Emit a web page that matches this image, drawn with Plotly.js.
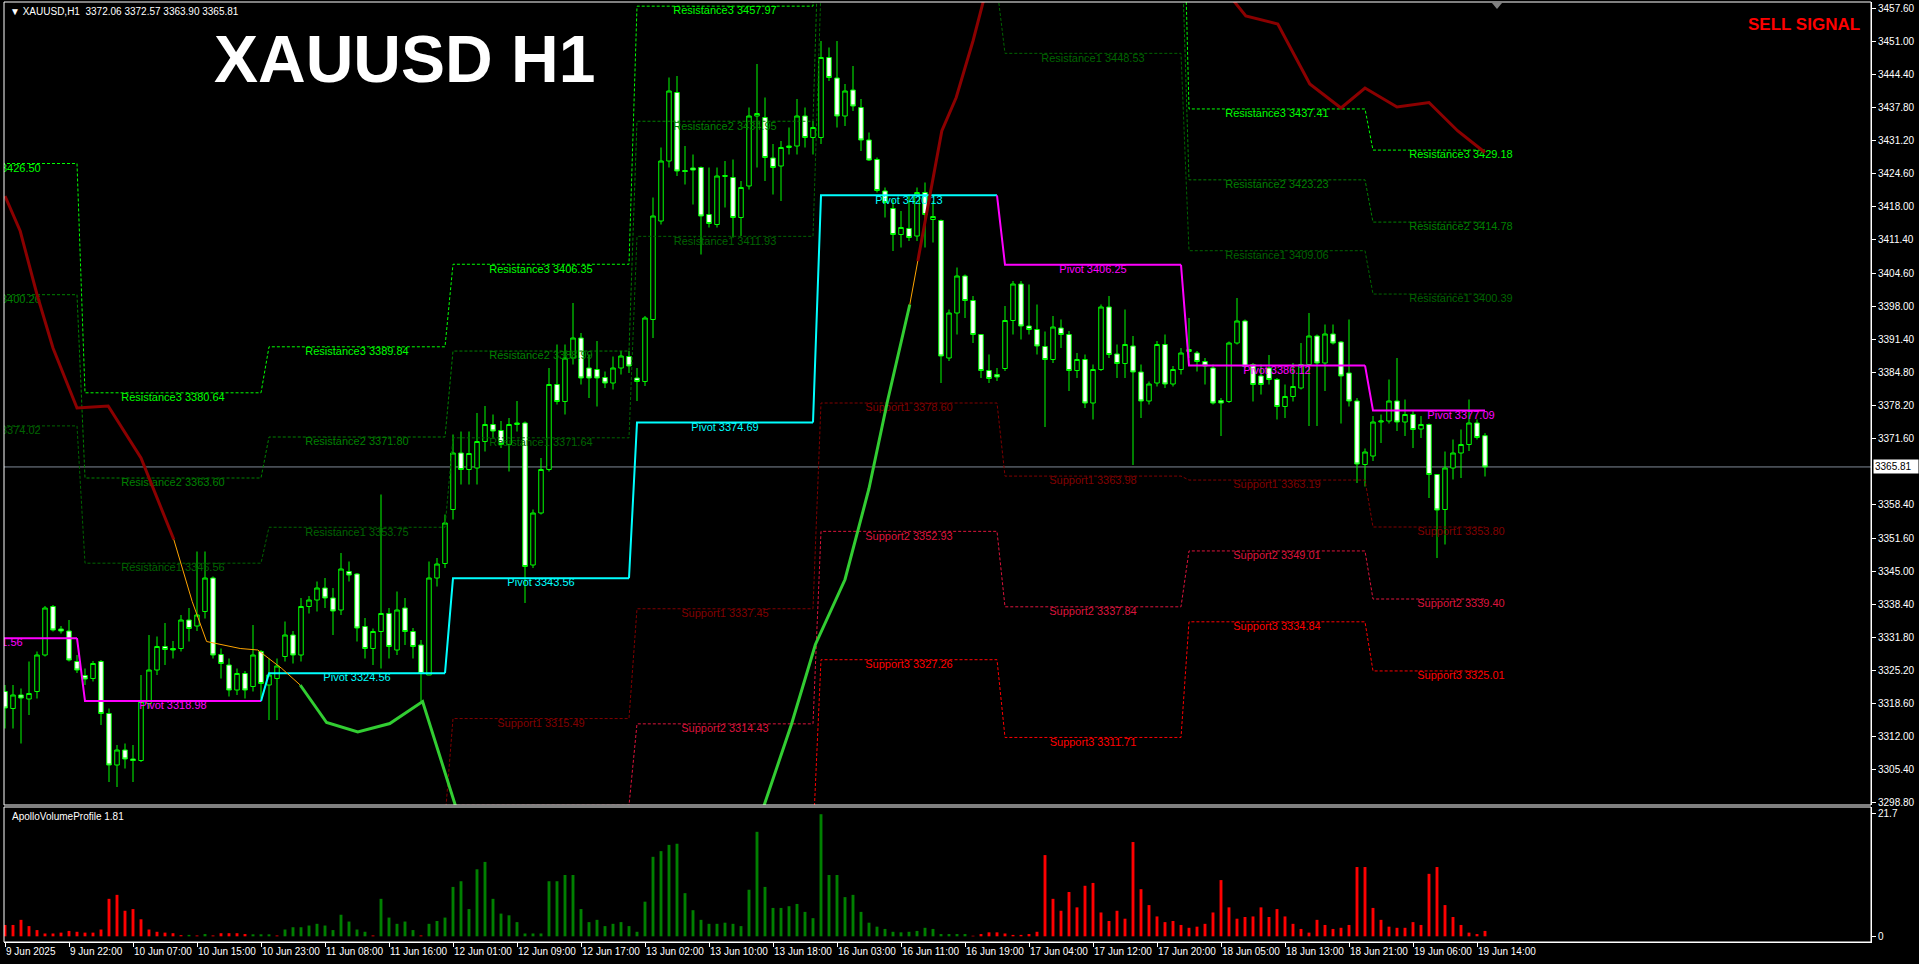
<!DOCTYPE html>
<html><head><meta charset="utf-8">
<script src="https://cdn.plot.ly/plotly-3.0.1.min.js"></script>
<style>html,body{margin:0;padding:0;background:#000;overflow:hidden}#chart{width:1919px;height:964px}</style>
</head><body><div id="chart"></div>
<script>
// ---------------- DATA ----------------
const timeLabels = ['9 Jun 2025','9 Jun 22:00','10 Jun 07:00','10 Jun 15:00','10 Jun 23:00','11 Jun 08:00','11 Jun 16:00','12 Jun 01:00','12 Jun 09:00','12 Jun 17:00','13 Jun 02:00','13 Jun 10:00','13 Jun 18:00','16 Jun 03:00','16 Jun 11:00','16 Jun 19:00','17 Jun 04:00','17 Jun 12:00','17 Jun 20:00','18 Jun 05:00','18 Jun 13:00','18 Jun 21:00','19 Jun 06:00','19 Jun 14:00'];
const timeLabelBars = [0,8,16,24,32,40,48,56,64,72,80,88,96,104,112,120,128,136,144,152,160,168,176,184];

const priceTicks = [3457.60,3451.00,3444.40,3437.80,3431.20,3424.60,3418.00,3411.40,3404.60,3398.00,3391.40,3384.80,3378.20,3371.60,3358.40,3351.60,3345.00,3338.40,3331.80,3325.20,3318.60,3312.00,3305.40,3298.80];

const opens = [3320.9,3317.5,3320.2,3319.4,3320.9,3328.2,3337.9,3333.4,3333.0,3326.9,
3324.1,3323.5,3326.9,3316.5,3306.2,3309.2,3307.4,3307.1,3318.5,3325.2,
3329.9,3329.5,3329.5,3335.2,3334.0,3336.9,3343.6,3328.3,3326.2,3321.2,
3324.5,3321.9,3328.9,3322.2,3323.5,3327.9,3332.2,3328.2,3337.9,3339.2,
3341.6,3339.6,3337.2,3344.9,3344.4,3333.9,3329.5,3332.9,3336.5,3329.2,
3337.6,3332.9,3330.2,3324.2,3343.6,3346.5,3357.3,3368.6,3365.3,3365.6,
3370.9,3374.3,3373.1,3370.3,3374.3,3374.6,3346.2,3356.6,3365.3,3382.3,
3378.9,3387.6,3391.6,3385.6,3385.3,3383.7,3382.6,3385.6,3387.9,3383.6,
3382.9,3395.3,3415.0,3427.0,3440.7,3425.1,3425.6,3425.7,3416.3,3414.3,
3423.9,3423.7,3415.7,3422.0,3436.0,3435.7,3427.6,3426.0,3429.7,3430.0,
3436.0,3431.7,3431.7,3447.7,3443.6,3436.0,3441.2,3437.7,3431.2,3427.3,
3421.0,3417.5,3412.3,3413.5,3412.0,3420.7,3415.3,3415.1,3387.6,3396.6,
3404.0,3399.1,3392.3,3385.1,3384.3,3385.5,3395.1,3402.4,3394.0,3393.3,
3389.9,3387.3,3393.6,3392.3,3385.1,3387.3,3378.6,3385.3,3397.8,3388.4,
3386.5,3390.0,3384.8,3379.0,3382.6,3390.3,3382.4,3385.3,3388.9,3388.6,
3386.9,3385.6,3379.1,3378.9,3390.6,3395.0,3386.3,3384.0,3385.6,3383.3,
3377.9,3379.9,3381.6,3386.3,3392.0,3386.6,3392.4,3390.8,3384.6,3379.0,
3366.3,3368.0,3374.8,3375.0,3379.0,3374.8,3376.3,3373.4,3374.3,3364.3,
3357.3,3365.6,3368.6,3370.3,3374.6,3372.06];

const highs = [3322.2,3322.2,3321.5,3326.9,3328.9,3338.0,3338.2,3334.0,3335.2,3328.2,
3325.5,3327.0,3327.2,3317.5,3310.2,3310.5,3310.2,3324.2,3332.2,3331.9,
3334.6,3331.0,3336.2,3337.6,3348.9,3348.9,3343.9,3329.5,3327.5,3325.5,
3325.0,3334.2,3329.2,3327.5,3327.5,3334.9,3333.0,3339.6,3340.0,3342.9,
3343.6,3341.6,3348.6,3346.9,3344.6,3335.6,3333.5,3360.3,3337.6,3340.9,
3339.6,3333.6,3331.2,3346.9,3347.6,3356.3,3372.3,3372.9,3372.9,3376.6,
3378.0,3376.3,3375.0,3375.6,3379.0,3374.9,3357.3,3367.6,3385.6,3390.3,
3390.3,3398.6,3392.6,3388.3,3391.0,3384.9,3387.9,3389.0,3389.0,3385.6,
3396.0,3419.7,3429.7,3443.7,3444.0,3430.0,3428.3,3425.9,3425.7,3425.7,
3427.0,3427.3,3423.0,3437.7,3446.4,3439.7,3430.4,3431.0,3433.7,3439.4,
3437.7,3435.0,3451.0,3449.7,3451.0,3442.4,3446.0,3439.4,3432.7,3427.7,
3421.7,3419.3,3417.0,3420.3,3421.7,3422.7,3419.0,3415.3,3397.3,3405.7,
3404.3,3400.0,3392.3,3388.3,3385.6,3398.0,3403.0,3403.0,3402.3,3398.3,
3392.9,3396.0,3395.3,3393.0,3388.6,3388.3,3386.3,3398.3,3400.0,3390.3,
3397.3,3392.0,3386.3,3382.9,3391.0,3392.3,3386.0,3389.6,3395.6,3389.0,
3387.6,3386.3,3379.6,3390.9,3399.6,3395.3,3386.6,3386.3,3388.2,3383.6,
3382.3,3386.6,3390.6,3396.6,3392.3,3394.3,3394.3,3391.0,3395.3,3379.6,
3369.5,3376.0,3376.3,3383.3,3387.6,3379.3,3377.0,3376.0,3374.5,3364.3,
3368.9,3371.3,3373.3,3379.3,3375.3,3372.57];

const lows = [3313.5,3313.5,3310.5,3316.2,3319.5,3327.9,3332.9,3332.5,3326.9,3324.6,
3322.2,3322.9,3314.2,3302.8,3301.8,3305.5,3302.8,3306.8,3317.5,3324.2,
3326.2,3327.5,3328.9,3330.9,3333.0,3335.5,3327.5,3323.5,3319.9,3320.2,
3319.5,3320.9,3319.5,3315.2,3315.2,3326.9,3326.5,3326.9,3336.5,3336.9,
3337.6,3332.2,3336.2,3342.9,3330.9,3327.5,3326.2,3325.5,3327.5,3328.2,
3330.2,3327.5,3318.9,3324.2,3341.9,3345.6,3355.3,3362.3,3362.3,3362.3,
3368.9,3371.6,3369.6,3364.9,3372.9,3338.6,3345.6,3356.3,3364.9,3378.3,
3376.3,3386.3,3382.3,3379.6,3377.9,3381.6,3381.3,3384.3,3384.6,3379.0,
3382.0,3391.6,3414.3,3425.7,3424.0,3422.3,3418.3,3408.3,3413.7,3413.7,
3417.7,3411.7,3412.0,3421.3,3425.7,3423.0,3420.3,3419.0,3428.3,3428.3,
3429.7,3428.3,3430.4,3443.0,3433.7,3434.0,3437.0,3429.0,3427.0,3420.7,
3415.7,3409.0,3409.7,3411.0,3411.0,3409.7,3410.7,3382.6,3387.0,3392.3,
3395.6,3390.6,3383.6,3382.6,3383.0,3385.0,3392.3,3391.3,3392.3,3388.3,
3373.8,3386.6,3389.6,3381.0,3383.6,3377.6,3375.3,3385.0,3387.6,3383.6,
3383.6,3366.2,3375.6,3378.3,3381.9,3381.6,3381.9,3384.3,3387.6,3384.9,
3382.3,3378.3,3372.0,3378.6,3390.3,3385.6,3378.9,3380.3,3382.3,3375.3,
3375.6,3378.9,3381.3,3374.0,3374.0,3381.0,3390.3,3374.5,3377.9,3362.6,
3361.9,3367.0,3370.6,3374.5,3373.0,3372.0,3369.6,3371.6,3359.6,3347.6,
3350.3,3363.3,3363.6,3369.0,3371.3,3363.90];

const closes = [3317.6,3320.2,3319.6,3320.5,3328.2,3337.6,3333.2,3333.0,3327.2,3325.2,
3323.4,3326.5,3316.5,3306.2,3309.2,3307.4,3307.1,3318.9,3325.2,3329.9,
3329.3,3329.2,3335.2,3333.5,3336.2,3343.6,3328.2,3326.5,3321.2,3324.5,
3321.2,3328.2,3322.5,3324.2,3326.0,3332.2,3328.2,3337.9,3339.2,3341.6,
3339.6,3337.0,3345.4,3344.2,3333.6,3329.5,3332.9,3336.5,3329.9,3337.2,
3332.9,3329.9,3324.5,3343.6,3346.4,3354.6,3368.6,3365.3,3368.5,3370.9,
3374.3,3373.0,3370.3,3374.3,3374.6,3345.9,3356.6,3365.3,3382.3,3378.9,
3387.6,3391.6,3383.6,3383.6,3383.6,3382.6,3385.6,3388.0,3386.0,3382.9,
3395.6,3416.0,3427.0,3441.0,3425.0,3424.9,3425.2,3416.0,3414.5,3424.0,
3424.1,3415.7,3421.7,3436.0,3436.5,3427.7,3425.7,3429.7,3430.0,3436.0,
3431.7,3433.7,3447.7,3443.7,3436.0,3441.0,3438.0,3431.2,3427.2,3421.1,
3418.7,3412.3,3413.7,3411.7,3420.7,3416.3,3415.9,3388.0,3396.6,3404.0,
3399.1,3392.3,3385.1,3383.5,3383.8,3395.1,3402.4,3394.0,3393.3,3390.0,
3387.3,3393.8,3392.3,3385.1,3387.3,3378.6,3385.3,3397.8,3388.3,3386.5,
3390.3,3384.8,3379.0,3382.4,3390.3,3382.4,3385.3,3388.6,3389.3,3386.9,
3386.0,3378.6,3378.6,3390.6,3395.0,3385.9,3382.3,3382.3,3383.3,3377.9,
3379.9,3381.9,3386.3,3392.0,3386.6,3392.4,3390.6,3384.0,3379.0,3366.4,
3368.8,3374.8,3375.0,3379.0,3374.8,3376.3,3373.3,3374.3,3364.3,3357.2,
3365.6,3368.6,3370.3,3374.6,3371.7,3365.81];

const volumes = [2.0,2.0,2.9,1.8,1.1,0.5,0.5,0.65,0.95,0.8,
0.65,0.65,1.2,6.6,7.3,4.5,4.8,3.0,1.2,0.8,
0.65,0.55,0.2,0.25,0.15,0.4,0.15,0.55,0.55,0.55,
0.4,0.35,0.35,0.35,0.15,1.2,1.6,1.6,1.9,2.2,
1.9,1.1,3.8,2.6,1.2,0.8,0.15,6.6,3.3,2.2,
2.6,1.1,0.15,2.2,2.7,3.3,8.7,9.7,4.8,11.8,
13.1,6.6,4.0,3.7,2.5,0.5,0.5,0.5,9.7,9.7,
10.8,10.8,4.8,2.5,2.9,1.8,2.2,2.5,1.8,0.8,
6.1,14.0,15.0,16.1,16.3,7.6,4.6,2.9,2.2,2.2,
2.4,2.2,1.8,8.2,18.4,8.7,5.0,5.0,5.3,5.7,
4.3,3.2,21.5,10.8,10.8,6.9,7.3,4.3,2.4,1.7,
1.3,0.8,0.7,0.8,0.95,1.5,1.3,0.4,0.4,0.4,
0.4,0.1,0.4,0.7,0.7,0.5,0.25,0.25,0.4,0.8,
14.3,6.6,4.5,7.8,5.1,8.9,9.4,4.2,2.7,4.5,
3.1,16.6,8.3,5.5,3.5,2.5,2.7,2.0,1.5,1.7,
2.2,4.2,9.9,5.1,3.1,3.4,3.5,5.1,3.4,4.8,
3.5,2.2,1.3,0.65,2.9,2.0,1.3,1.5,2.0,12.2,
12.2,5.0,2.9,1.7,1.5,1.5,2.5,2.0,11.0,12.2,
5.5,3.4,2.0,0.65,0.4,0.95];
// volume direction runs: [flag, count]  (s = selling / red, b = buying / green)
const volumeDirRuns = [['s',23],['b',1],['s',1],['b',1],['s',5],['b',3],['s',1],['b',11],['s',1],['b',5],['s',1],['b',68],['s',65]];

// Daily pivot levels (bar index of each day's 01:00 bar)
const dayStart = [-13, 10, 33, 56, 79, 102, 125, 148, 171];
const pivotLevels = [3331.56, 3318.98, 3324.56, 3343.56, 3374.69, 3420.13, 3406.25, 3386.12, 3377.09];
const r1Levels = [3374.02, 3346.56, 3353.75, 3371.64, 3411.93, 3461.66, 3448.53, 3409.06, 3400.39];
const r2Levels = [3400.26, 3363.60, 3371.80, 3388.99, 3434.95, 3487.33, 3474.66, 3423.23, 3414.78];
const r3Levels = [3426.50, 3380.64, 3389.84, 3406.35, 3457.97, 3513.00, 3500.79, 3437.41, 3429.18];
const s1Levels = [3289.09, 3291.40, 3295.37, 3315.49, 3337.45, 3378.60, 3363.98, 3363.19, 3353.80];
const s2Levels = [3262.85, 3274.36, 3277.32, 3298.13, 3314.43, 3352.93, 3337.84, 3349.01, 3339.40];
const s3Levels = [3236.61, 3257.32, 3259.28, 3280.77, 3291.42, 3327.26, 3311.71, 3334.84, 3325.01];

// Trend indicator line segments (bar position, price)
const trendRed1X = [0, 1.9, 4, 6, 9, 12.9, 17, 21.1];
const trendRed1Y = [3420.0, 3413.0, 3400.3, 3389.6, 3377.6, 3378.0, 3367.6, 3351.3];
const trendOrange1X = [21.1, 23.4, 25.2, 29.4, 31.6, 34.6, 36.9];
const trendOrange1Y = [3351.3, 3338.9, 3330.9, 3329.5, 3329.2, 3325.5, 3322.2];
const trendGreen1X = [36.9, 40.2, 44.1, 48.1, 52.2, 56.3, 57.5];
const trendGreen1Y = [3322.2, 3314.7, 3312.8, 3314.5, 3318.9, 3298.2, 3292.0];
const trendGreen2X = [94.5, 94.9, 98.3, 101.3, 105, 108, 110.3, 113.1];
const trendGreen2Y = [3292.0, 3298.2, 3314.3, 3330.3, 3343.3, 3361.5, 3378.9, 3398.3];
const trendOrange2X = [113.1, 114.1];
const trendOrange2Y = [3398.3, 3407.0];
const trendRed2X = [114.1, 115.9, 117.1, 118.9, 121, 122.3, 123];
const trendRed2Y = [3407.0, 3423.0, 3433.0, 3439.7, 3451.0, 3459.0, 3463.0];
const trendRed3X = [153, 153.6, 155.1, 157, 159.1, 163.1, 167, 170, 174, 178, 181.6, 185];
const trendRed3Y = [3463.0, 3459.0, 3456.0, 3455.2, 3454.4, 3442.4, 3437.6, 3441.6, 3437.8, 3438.7, 3433.0, 3428.7];

const lastQuote = {symbol: 'XAUUSD,H1', open: 3372.06, high: 3372.57, low: 3363.90, close: 3365.81};

// ---------------- LAYOUT HELPERS ----------------
const W = 1919, H = 964, ML = 4, MR = 48, MT = 2, MB = 22;
const PW = W - ML - MR, PH = H - MT - MB;
const px = x => (x - ML) / PW;
const py = y => (H - MB - y) / PH;
const FONT = 'Liberation Sans, Arial, sans-serif';
const nBars = opens.length;
const bars = opens.map((_, i) => i);
const yRange = [3298.2, 3458.8];
const mainDomain = [py(805), 1];
const subDomain = [0, py(807)];

const traces = [];

function levelLine(vals, color) {
  const xs = [], ys = [];
  for (let d = 0; d < dayStart.length; d++) {
    const s = Math.max(dayStart[d], -1);
    const e = d < dayStart.length - 1 ? dayStart[d + 1] - 1 : nBars - 1;
    xs.push(s, e); ys.push(vals[d], vals[d]);
  }
  return {type: 'scatter', mode: 'lines', x: xs, y: ys, line: {color, width: 1, dash: '3px,2px'}, hoverinfo: 'skip', xaxis: 'x', yaxis: 'y'};
}
function levelLabels(vals, name, colors) {
  const xs = [], ys = [], tx = [], cs = [];
  for (let d = 0; d < dayStart.length; d++) {
    if (vals[d] > yRange[1] || vals[d] < yRange[0] + 1) continue;
    xs.push(dayStart[d] + 11); ys.push(vals[d]); tx.push(name + ' ' + vals[d].toFixed(2));
    cs.push(Array.isArray(colors) ? colors[d] : colors);
  }
  return {type: 'scatter', mode: 'text', x: xs, y: ys, text: tx, textposition: 'bottom center',
    textfont: {color: cs, size: 11, family: FONT}, hoverinfo: 'skip', cliponaxis: true, xaxis: 'x', yaxis: 'y'};
}

const levelSpecs = [
  [r3Levels, 'Resistance3', '#00ff00'],
  [r2Levels, 'Resistance2', '#008000'],
  [r1Levels, 'Resistance1', '#006400'],
  [s1Levels, 'Support1', '#800000'],
  [s2Levels, 'Support2', '#dc143c'],
  [s3Levels, 'Support3', '#ff0000']
];
levelSpecs.forEach(([v, n, c]) => traces.push(levelLine(v, c)));
levelSpecs.forEach(([v, n, c]) => traces.push(levelLabels(v, n, c)));

const pivotColors = pivotLevels.map((p, d) => (d > 0 && p > pivotLevels[d - 1]) ? '#00ffff' : '#ff00ff');
traces.push(levelLabels(pivotLevels, 'Pivot', pivotColors));

// candles
traces.push({
  type: 'candlestick', x: bars, open: opens, high: highs, low: lows, close: closes,
  increasing: {line: {color: '#00ff00', width: 1}, fillcolor: '#000000'},
  decreasing: {line: {color: '#00ff00', width: 1}, fillcolor: '#ffffff'},
  whiskerwidth: 0, hoverinfo: 'skip', xaxis: 'x', yaxis: 'y'
});

// pivot line (per day segments)
for (let d = 0; d < dayStart.length; d++) {
  const s = dayStart[d];
  const e = d < dayStart.length - 1 ? dayStart[d + 1] - 1 : nBars - 1;
  const xs = d > 0 ? [s - 1, s, e] : [-1, e];
  const ys = d > 0 ? [pivotLevels[d - 1], pivotLevels[d], pivotLevels[d]] : [pivotLevels[d], pivotLevels[d]];
  traces.push({type: 'scatter', mode: 'lines', x: xs, y: ys, line: {color: pivotColors[d], width: 2}, hoverinfo: 'skip', xaxis: 'x', yaxis: 'y'});
}

// trend indicator
function seg(x, y, color, width) {
  return {type: 'scatter', mode: 'lines', x, y, line: {color, width}, hoverinfo: 'skip', xaxis: 'x', yaxis: 'y'};
}
traces.push(seg(trendRed1X, trendRed1Y, '#8b0000', 3));
traces.push(seg(trendOrange1X, trendOrange1Y, '#ffa500', 1));
traces.push(seg(trendGreen1X, trendGreen1Y, '#32cd32', 3));
traces.push(seg(trendGreen2X, trendGreen2Y, '#32cd32', 3));
traces.push(seg(trendOrange2X, trendOrange2Y, '#ffa500', 1));
traces.push(seg(trendRed2X, trendRed2Y, '#8b0000', 3));
traces.push(seg(trendRed3X, trendRed3Y, '#8b0000', 3));

// volume histogram
const volDir = [];
volumeDirRuns.forEach(([f, n]) => { for (let k = 0; k < n; k++) volDir.push(f); });
traces.push({
  type: 'bar', x: bars, y: volumes, width: 0.36,
  marker: {color: volDir.map(f => f === 's' ? '#ff0000' : '#008000'), line: {width: 0}},
  hoverinfo: 'skip', xaxis: 'x', yaxis: 'y2'
});

const axisFont = {color: '#ffffff', size: 10, family: FONT};
const layout = {
  width: W, height: H,
  paper_bgcolor: '#000000', plot_bgcolor: '#000000',
  margin: {l: ML, r: MR, t: MT, b: MB, pad: 0},
  showlegend: false,
  boxgap: 0.2, boxgroupgap: 0.3,
  xaxis: {
    range: [-1 / 8, (PW - 1) / 8], anchor: 'y2',
    tickmode: 'array', tickvals: timeLabelBars, ticktext: timeLabels,
    tickangle: 0,
    ticks: 'outside', ticklen: 4, tickcolor: '#ffffff', tickwidth: 1,
    ticklabelposition: 'outside right',
    showline: true, linecolor: '#ffffff', linewidth: 1,
    showgrid: false, zeroline: false, tickfont: axisFont,
    rangeslider: {visible: false}, fixedrange: true
  },
  yaxis: {
    domain: mainDomain, range: yRange, side: 'right', anchor: 'x',
    tickmode: 'array', tickvals: priceTicks, ticktext: priceTicks.map(v => v.toFixed(2)),
    ticks: 'outside', ticklen: 4, tickcolor: '#ffffff',
    showline: true, linecolor: '#ffffff', linewidth: 1,
    showgrid: false, zeroline: false, tickfont: axisFont, fixedrange: true
  },
  yaxis2: {
    domain: subDomain, range: [-1.0, 22.77], side: 'right', anchor: 'x',
    tickmode: 'array', tickvals: [0, 21.7], ticktext: ['0', '21.7'],
    ticks: 'outside', ticklen: 4, tickcolor: '#ffffff',
    showline: true, linecolor: '#ffffff', linewidth: 1,
    showgrid: false, zeroline: false, tickfont: axisFont, fixedrange: true
  },
  shapes: [
    {type: 'rect', xref: 'paper', yref: 'paper', x0: 0, x1: 1, y0: mainDomain[0], y1: 1, line: {color: '#ffffff', width: 1}},
    {type: 'rect', xref: 'paper', yref: 'paper', x0: 0, x1: 1, y0: 0, y1: subDomain[1], line: {color: '#ffffff', width: 1}},
    {type: 'line', xref: 'paper', yref: 'y', x0: 0, x1: 1, y0: lastQuote.close, y1: lastQuote.close, line: {color: '#7f8a96', width: 1}, layer: 'below'},
    {type: 'path', xref: 'paper', yref: 'paper', path: `M ${px(1492)} ${py(3)} L ${px(1502)} ${py(3)} L ${px(1497)} ${py(9)} Z`, fillcolor: '#808080', line: {width: 0}}
  ],
  annotations: [
    {xref: 'paper', yref: 'paper', x: px(8), y: py(11), xanchor: 'left', yanchor: 'middle', showarrow: false,
      text: '\u25BC ' + lastQuote.symbol + '  ' + [lastQuote.open, lastQuote.high, lastQuote.low, lastQuote.close].map(v => v.toFixed(2)).join(' '),
      font: {color: '#ffffff', size: 10, family: FONT}},
    {xref: 'paper', yref: 'paper', x: px(212), y: py(59), xanchor: 'left', yanchor: 'middle', showarrow: false,
      text: '<b>XAUUSD H1</b>', font: {color: '#ffffff', size: 66, family: FONT}},
    {xref: 'paper', yref: 'paper', x: px(1862), y: py(24.5), xanchor: 'right', yanchor: 'middle', showarrow: false,
      text: '<b>SELL SIGNAL</b>', font: {color: '#ff0000', size: 17, family: FONT}},
    {xref: 'paper', yref: 'paper', x: px(10), y: py(816), xanchor: 'left', yanchor: 'middle', showarrow: false,
      text: 'ApolloVolumeProfile 1.81', font: {color: '#ffffff', size: 10, family: FONT}},
    {xref: 'paper', yref: 'y', x: px(1873), y: lastQuote.close, xanchor: 'left', yanchor: 'middle', showarrow: false,
      text: lastQuote.close.toFixed(2) + '&nbsp;&nbsp;', bgcolor: '#ffffff', borderpad: 1,
      font: {color: '#000000', size: 10, family: FONT}}
  ]
};

Plotly.newPlot('chart', traces, layout, {staticPlot: true, displayModeBar: false});
</script></body></html>
